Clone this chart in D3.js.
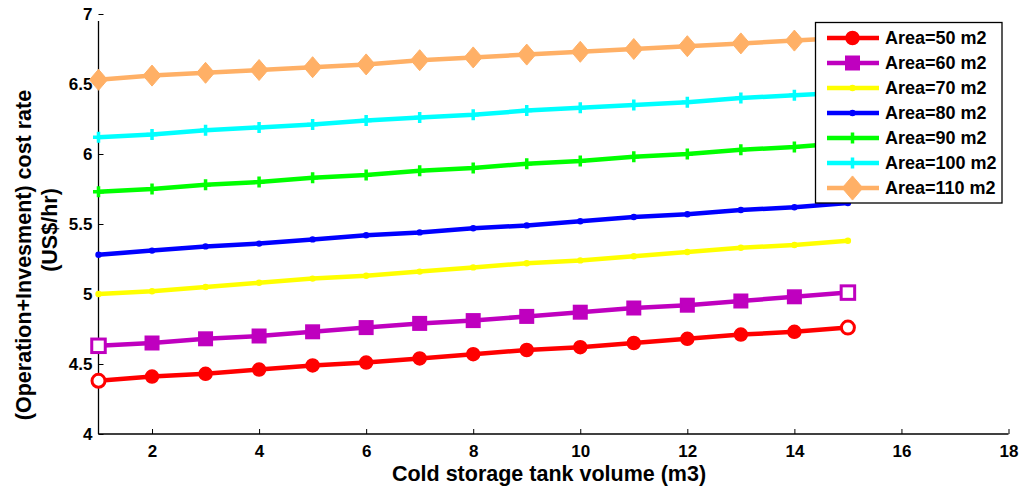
<!DOCTYPE html>
<html><head><meta charset="utf-8">
<script src="https://cdn.jsdelivr.net/npm/d3@7"></script>
<style>body{margin:0;background:#fff;} svg{display:block;font-family:"Liberation Sans",Arial,sans-serif;font-weight:bold;}</style>
</head><body><svg id="c" width="1024" height="488"></svg>
<script>
const volumes = [1,2,3,4,5,6,7,8,9,10,11,12,13,14,15];
const area50  = [4.38,4.41,4.43,4.46,4.49,4.51,4.54,4.57,4.60,4.62,4.65,4.68,4.71,4.73,4.76];
const area60  = [4.63,4.65,4.68,4.70,4.73,4.76,4.79,4.81,4.84,4.87,4.90,4.92,4.95,4.98,5.01];
const area70  = [5.00,5.02,5.05,5.08,5.11,5.13,5.16,5.19,5.22,5.24,5.27,5.30,5.33,5.35,5.38];
const area80  = [5.28,5.31,5.34,5.36,5.39,5.42,5.44,5.47,5.49,5.52,5.55,5.57,5.60,5.62,5.65];
const area90  = [5.73,5.75,5.78,5.80,5.83,5.85,5.88,5.90,5.93,5.95,5.98,6.00,6.03,6.05,6.08];
const area100 = [6.12,6.14,6.17,6.19,6.21,6.24,6.26,6.28,6.31,6.33,6.35,6.37,6.40,6.42,6.44];
const area110 = [6.53,6.56,6.58,6.60,6.62,6.64,6.67,6.69,6.71,6.73,6.75,6.77,6.79,6.81,6.83];
const seriesNames = ["Area=50 m2","Area=60 m2","Area=70 m2","Area=80 m2","Area=90 m2","Area=100 m2","Area=110 m2"];
const seriesColors = ["#ff0000","#bf00bf","#ffff00","#0000ff","#00ff00","#00ffff","#ffb066"];
const seriesMarkers = ["circle","square","dot","dot","plus","plus","diamond"];
const xTicks = [2,4,6,8,10,12,14,16,18];
const yTicks = [4,4.5,5,5.5,6,6.5,7];
const xTitle = "Cold storage tank volume (m3)";
const yTitle1 = "(Operation+Invesment) cost rate";
const yTitle2 = "(US$/hr)";

const seriesValues = [area50,area60,area70,area80,area90,area100,area110];
const series = seriesNames.map((n,i)=>({name:n,color:seriesColors[i],marker:seriesMarkers[i],
  pts: volumes.map((v,j)=>({x:v,y:seriesValues[i][j]}))}));

const svg = d3.select("#c");
const x = d3.scaleLinear().domain([1,18]).range([98.5,1008.5]);
const y = d3.scaleLinear().domain([4,7]).range([434,14]);

// axes
const xAxis = svg.append("g").attr("transform","translate(0,434)")
  .call(d3.axisBottom(x).tickValues(xTicks).tickSize(-5).tickPadding(11).tickFormat(d3.format("d")));
const yAxis = svg.append("g").attr("transform","translate(98.5,0)")
  .call(d3.axisLeft(y).tickValues(yTicks).tickSize(-5).tickPadding(6).tickFormat(d=>String(d)));
[xAxis,yAxis].forEach(a=>{
  a.select(".domain").attr("stroke","#000").attr("stroke-width",1.3);
  a.selectAll(".tick line").attr("stroke","#000").attr("stroke-width",1);
  a.selectAll("text").attr("fill","#000").style("font-size","17px").style("font-weight","bold").style("font-family","'Liberation Sans',Arial,sans-serif");
});
xAxis.select(".domain").attr("d","M98.5,0H1008.5");
yAxis.select(".domain").attr("d","M0,434V21");

// lines
const line = d3.line().x(d=>x(d.x)).y(d=>y(d.y));
function drawMarker(g, m, color, cx, cy, hollow, scale){
  scale = scale||1;
  if(m==="circle"){
    g.append("circle").attr("cx",cx).attr("cy",cy).attr("r",6.5*scale)
      .attr("fill",hollow?"#fff":color).attr("stroke",color).attr("stroke-width",hollow?3:1.5);
  } else if(m==="square"){
    const s=13.5*scale;
    g.append("rect").attr("x",cx-s/2).attr("y",cy-s/2).attr("width",s).attr("height",s)
      .attr("fill",hollow?"#fff":color).attr("stroke",color).attr("stroke-width",hollow?3:1.5);
  } else if(m==="dot"){
    g.append("circle").attr("cx",cx).attr("cy",cy).attr("r",3.2).attr("fill",color);
  } else if(m==="plus"){
    const s=5.5;
    g.append("path").attr("d",`M${cx-s},${cy}H${cx+s}M${cx},${cy-s}V${cy+s}`)
      .attr("stroke",color).attr("stroke-width",3.5).attr("fill","none");
  } else if(m==="diamond"){
    const w=9*scale,h=10.5*scale;
    g.append("path").attr("d",`M${cx},${cy-h}L${cx+w},${cy}L${cx},${cy+h}L${cx-w},${cy}Z`)
      .attr("fill",color).attr("stroke",color).attr("stroke-width",1);
  }
}
series.forEach(s=>{
  const g = svg.append("g");
  g.append("path").datum(s.pts).attr("d",line).attr("fill","none")
    .attr("stroke",s.color).attr("stroke-width",4.5).attr("stroke-linejoin","round");
  s.pts.forEach((p,j)=>{
    const hollow = (j===0||j===s.pts.length-1) && (s.marker==="circle"||s.marker==="square");
    drawMarker(g, s.marker, s.color, x(p.x), y(p.y), hollow);
  });
});

// legend
const lg = svg.append("g");
lg.append("rect").attr("x",815.5).attr("y",22.5).attr("width",186.5).attr("height",180.5)
  .attr("fill","#fff").attr("stroke","#000").attr("stroke-width",1.3);
series.forEach((s,i)=>{
  const ly = 38 + i*25;
  lg.append("line").attr("x1",827).attr("x2",879).attr("y1",ly).attr("y2",ly)
    .attr("stroke",s.color).attr("stroke-width",4.5);
  drawMarker(lg, s.marker, s.color, 852.5, ly, false, s.marker==="diamond"?1.15:1);
  lg.append("text").attr("x",885).attr("y",ly).attr("dy","0.36em")
    .style("font-size","18px").attr("fill","#000").text(s.name);
});

// titles
svg.append("text").attr("x",549).attr("y",473).attr("dy","0.36em").attr("text-anchor","middle")
  .style("font-size","21.5px").attr("fill","#000").text(xTitle);
svg.append("text").attr("transform","translate(23,255) rotate(-90)").attr("dy","0.36em").attr("text-anchor","middle")
  .style("font-size","21.5px").attr("fill","#000").text(yTitle1);
svg.append("text").attr("transform","translate(49,230) rotate(-90)").attr("dy","0.36em").attr("text-anchor","middle")
  .style("font-size","21.5px").attr("fill","#000").text(yTitle2);
</script></body></html>
